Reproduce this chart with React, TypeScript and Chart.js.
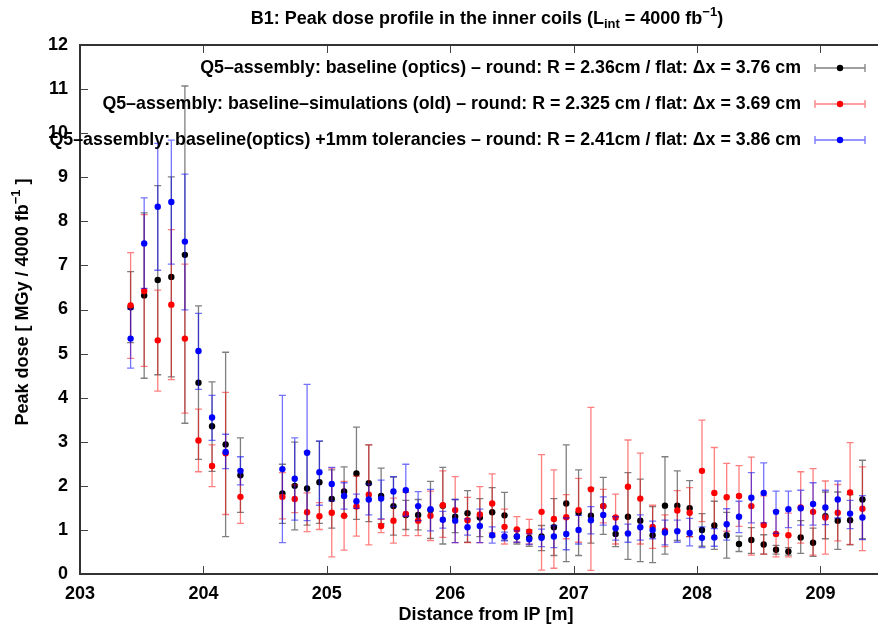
import React, { useEffect, useRef } from 'react';
import { Chart, registerables } from 'chart.js';

Chart.register(...registerables);

const FONT = '"Liberation Sans", Arial, Helvetica, sans-serif';

// Distance from IP [m]
const positions = [
  203.41, 203.52, 203.63, 203.74, 203.85, 203.96, 204.07, 204.18, 204.30,
  204.64, 204.74, 204.84, 204.94, 205.04, 205.14, 205.24, 205.34, 205.44, 205.54,
  205.64, 205.74, 205.84, 205.94, 206.04, 206.14, 206.24, 206.34, 206.44, 206.54,
  206.64, 206.74, 206.84, 206.94, 207.04, 207.14, 207.24, 207.34, 207.44, 207.54,
  207.64, 207.74, 207.84, 207.94, 208.04, 208.14, 208.24, 208.34, 208.44, 208.54,
  208.64, 208.74, 208.84, 208.94, 209.04, 209.14, 209.24, 209.34,
];

// Series 1: baseline (optics)
const baselineDose = [
  6.05, 6.32, 6.67, 6.74, 7.24, 4.34, 3.35, 2.94, 2.24,
  1.83, 2.00, 1.94, 2.08, 1.70, 1.87, 2.28, 2.06, 1.77, 1.54, 1.34, 1.34, 1.45, 1.55, 1.30, 1.38,
  1.28, 1.40, 1.33, 0.85, 0.82, 0.85, 1.06, 1.60, 1.39, 1.32, 1.54, 0.91, 1.30, 1.21, 0.88, 1.55,
  1.55, 1.49, 1.00, 1.10, 0.88, 0.68, 0.77, 0.67, 0.55, 0.51, 0.83, 0.71, 1.31, 1.21, 1.22, 1.69,
];
const baselineLow = [
  5.25, 4.44, 4.52, 4.47, 3.42, 2.60, 2.33, 0.85, 1.40,
  1.15, 1.00, 1.11, 1.15, 1.04, 1.31, 1.24, 1.19, 1.14, 0.88, 1.01, 1.00, 0.81, 0.68, 0.94, 0.72,
  0.85, 0.84, 0.77, 0.68, 0.63, 0.53, 0.42, 0.28, 0.42, 0.70, 0.90, 0.62, 0.33, 0.28, 0.26, 0.45,
  0.76, 0.85, 0.63, 0.56, 0.36, 0.51, 0.47, 0.45, 0.45, 0.43, 0.47, 0.40, 0.80, 0.56, 0.66, 0.80,
];
const baselineHigh = [
  6.86, 8.19, 8.81, 9.01, 11.07, 6.08, 4.36, 5.03, 3.09,
  2.49, 2.99, 2.77, 3.01, 2.36, 2.43, 3.33, 2.93, 2.40, 2.20, 1.67, 1.69, 2.10, 2.42, 1.69, 1.89,
  1.71, 1.96, 1.85, 1.02, 1.00, 1.10, 1.71, 2.93, 2.36, 1.95, 2.19, 1.30, 2.30, 2.15, 1.53, 2.66,
  2.34, 2.12, 1.37, 1.65, 1.40, 0.86, 1.05, 0.89, 0.65, 0.60, 1.21, 1.04, 1.86, 1.86, 1.80, 2.58,
];

// Series 2: baseline-simulations (old)
const oldSimDose = [
  6.09, 6.42, 5.30, 6.11, 5.34, 3.03, 2.45, 2.74, 1.75,
  1.75, 1.70, 1.40, 1.31, 1.39, 1.32, 1.53, 1.80, 1.09, 1.21, 1.36, 1.21, 1.32, 1.56, 1.45, 1.22,
  1.35, 1.60, 1.07, 1.01, 0.96, 1.41, 1.25, 1.29, 1.45, 1.92, 1.54, 1.28, 1.98, 1.71, 1.07, 0.98,
  1.44, 1.39, 2.34, 1.84, 1.74, 1.77, 1.54, 1.11, 0.91, 0.88, 1.51, 1.41, 1.28, 1.39, 1.85, 1.48,
];
const oldSimLow = [
  4.89, 4.71, 4.15, 4.41, 3.65, 2.32, 1.98, 1.35, 1.15,
  1.25, 1.39, 0.96, 1.01, 0.39, 0.54, 0.86, 0.66, 0.94, 0.70, 0.87, 0.87, 0.76, 0.83, 0.71, 0.71,
  0.71, 0.93, 0.68, 0.72, 0.68, 0.09, 0.13, 0.80, 0.72, 0.08, 1.16, 0.68, 0.93, 0.68, 0.58, 0.62,
  0.99, 0.85, 1.19, 0.81, 0.97, 1.08, 0.43, 0.45, 0.39, 0.39, 0.70, 0.43, 0.45, 0.75, 0.67, 0.53,
];
const oldSimHigh = [
  7.29, 8.15, 6.44, 7.81, 7.03, 3.74, 2.93, 4.12, 2.36,
  2.30, 2.02, 1.84, 1.62, 2.40, 2.10, 2.22, 2.93, 1.24, 1.72, 1.85, 1.55, 1.88, 2.34, 2.21, 1.74,
  1.98, 2.27, 1.47, 1.30, 1.24, 2.71, 2.36, 1.80, 2.17, 3.78, 1.92, 1.81, 3.04, 2.74, 1.56, 1.34,
  1.89, 1.96, 3.49, 2.87, 2.51, 2.46, 2.65, 1.77, 1.43, 1.38, 2.32, 2.39, 2.11, 2.03, 2.98, 2.43,
];

// Series 3: baseline(optics) +1mm tolerancies
const tolDose = [
  5.34, 7.50, 8.33, 8.44, 7.54, 5.06, 3.55, 2.77, 2.34,
  2.38, 2.16, 2.75, 2.31, 2.04, 1.77, 1.65, 1.69, 1.71, 1.87, 1.90, 1.54, 1.47, 1.23, 1.21, 1.06,
  1.09, 0.88, 0.85, 0.85, 0.79, 0.82, 0.85, 0.91, 1.00, 1.22, 1.34, 1.04, 0.92, 1.06, 1.00, 0.94,
  0.97, 0.93, 0.82, 0.83, 1.13, 1.30, 1.73, 1.84, 1.41, 1.47, 1.49, 1.59, 1.51, 1.69, 1.37, 1.28,
];
const tolLow = [
  4.67, 6.48, 6.89, 7.03, 5.99, 4.19, 3.03, 2.39, 2.02,
  0.71, 1.22, 1.21, 1.56, 1.66, 1.47, 1.49, 1.34, 1.25, 1.53, 1.31, 1.21, 0.98, 1.04, 0.71, 0.88,
  0.71, 0.70, 0.75, 0.72, 0.67, 0.62, 0.60, 0.55, 0.68, 0.91, 1.11, 0.77, 0.72, 0.77, 0.80, 0.66,
  0.72, 0.64, 0.60, 0.63, 0.77, 0.94, 1.16, 1.16, 0.92, 1.05, 1.11, 1.11, 1.12, 1.27, 1.03, 0.78,
];
const tolHigh = [
  6.01, 8.53, 9.77, 9.84, 9.07, 5.91, 4.05, 3.17, 2.66,
  4.05, 3.09, 4.30, 3.02, 2.42, 2.07, 1.81, 2.04, 2.13, 2.21, 2.49, 1.87, 1.92, 1.42, 1.69, 1.25,
  1.47, 1.07, 0.95, 0.98, 0.91, 1.02, 1.10, 1.27, 1.33, 1.53, 1.75, 1.30, 1.13, 1.34, 1.20, 1.22,
  1.22, 1.26, 1.07, 1.03, 1.48, 1.65, 2.30, 2.52, 1.88, 1.88, 1.90, 2.07, 1.90, 2.11, 1.67, 1.78,
];

const xTicks = [203, 204, 205, 206, 207, 208, 209];
const yTicks = [0, 1, 2, 3, 4, 5, 6, 7, 8, 9, 10, 11, 12];

const legendLabels = [
  'Q5–assembly: baseline (optics) – round: R = 2.36cm / flat: Δx = 3.76 cm',
  'Q5–assembly: baseline–simulations (old) – round: R = 2.325 cm / flat: Δx = 3.69 cm',
  'Q5–assembly: baseline(optics) +1mm tolerancies – round: R = 2.41cm / flat: Δx = 3.86 cm',
];
const pointColors = ['#000000', '#ff0000', '#0000ff'];
const barColors = ['rgba(0,0,0,0.5)', 'rgba(255,0,0,0.5)', 'rgba(0,0,255,0.55)'];

type Seg = { t: string; k?: 'sub' | 'sup' };

const titleSegs: Seg[] = [
  { t: 'B1: Peak dose profile in the inner coils (L' },
  { t: 'int', k: 'sub' },
  { t: ' = 4000 fb' },
  { t: '−1', k: 'sup' },
  { t: ')' },
];
const yTitleSegs: Seg[] = [
  { t: 'Peak dose [ MGy / 4000 fb' },
  { t: '−1', k: 'sup' },
  { t: ' ]' },
];
const xTitleSegs: Seg[] = [{ t: 'Distance from IP [m]' }];

function segFont(size: number, k?: string) {
  const s = k ? Math.round(size * 0.72) : size;
  return `bold ${s}px ${FONT}`;
}

function drawRich(ctx: CanvasRenderingContext2D, segs: Seg[], cx: number, cy: number, size: number) {
  let total = 0;
  const widths = segs.map((s) => {
    ctx.font = segFont(size, s.k);
    const w = ctx.measureText(s.t).width;
    total += w;
    return w;
  });
  let x = cx - total / 2;
  ctx.textBaseline = 'middle';
  ctx.textAlign = 'left';
  segs.forEach((s, i) => {
    ctx.font = segFont(size, s.k);
    const dy = s.k === 'sub' ? size * 0.32 : s.k === 'sup' ? -size * 0.38 : 0;
    ctx.fillText(s.t, x, cy + dy);
    x += widths[i];
  });
}

const errorBarPlugin = {
  id: 'errorBars',
  beforeDatasetDraw(chart: any, args: any) {
    const ds = chart.data.datasets[args.index];
    const { ctx, chartArea: a } = chart;
    const xs = chart.scales.x;
    const ys = chart.scales.y;
    ctx.save();
    ctx.beginPath();
    ctx.rect(a.left, a.top, a.right - a.left, a.bottom - a.top);
    ctx.clip();
    ctx.strokeStyle = ds.barColor;
    ctx.lineWidth = 1.3;
    ds.data.forEach((p: any, i: number) => {
      const px = xs.getPixelForValue(p.x);
      const pl = ys.getPixelForValue(ds.errLow[i]);
      const ph = ys.getPixelForValue(ds.errHigh[i]);
      ctx.beginPath();
      ctx.moveTo(px, pl);
      ctx.lineTo(px, ph);
      ctx.moveTo(px - 3.5, pl);
      ctx.lineTo(px + 3.5, pl);
      ctx.moveTo(px - 3.5, ph);
      ctx.lineTo(px + 3.5, ph);
      ctx.stroke();
    });
    ctx.restore();
  },
};

const framePlugin = {
  id: 'frame',
  afterDraw(chart: any) {
    const { ctx, chartArea: a, scales } = chart;
    ctx.save();
    // ticks
    ctx.strokeStyle = '#444';
    ctx.lineWidth = 1;
    scales.x.ticks.forEach((t: any) => {
      const px = Math.round(scales.x.getPixelForValue(t.value)) + 0.5;
      ctx.beginPath();
      ctx.moveTo(px, a.bottom);
      ctx.lineTo(px, a.bottom - 8);
      ctx.moveTo(px, a.top);
      ctx.lineTo(px, a.top + 8);
      ctx.stroke();
    });
    scales.y.ticks.forEach((t: any) => {
      const py = Math.round(scales.y.getPixelForValue(t.value)) + 0.5;
      ctx.beginPath();
      ctx.moveTo(a.left, py);
      ctx.lineTo(a.left + 8, py);
      ctx.stroke();
    });
    // border
    ctx.strokeStyle = '#333';
    ctx.lineWidth = 2;
    ctx.beginPath();
    ctx.moveTo(a.right + 2, a.top);
    ctx.lineTo(a.left, a.top);
    ctx.lineTo(a.left, a.bottom);
    ctx.lineTo(a.right + 2, a.bottom);
    ctx.stroke();

    // titles
    ctx.fillStyle = '#000';
    drawRich(ctx, titleSegs, 487, 19, 18);
    drawRich(ctx, xTitleSegs, 486, 615, 18);
    ctx.save();
    ctx.translate(23, 302);
    ctx.rotate(-Math.PI / 2);
    drawRich(ctx, yTitleSegs, 0, 0, 18);
    ctx.restore();

    // legend
    const rowY = [68, 104, 140];
    legendLabels.forEach((lab, i) => {
      const y = rowY[i];
      ctx.font = `bold 17.8px ${FONT}`;
      ctx.textAlign = 'right';
      ctx.textBaseline = 'middle';
      ctx.fillStyle = '#000';
      ctx.fillText(lab, 801, y);
      ctx.strokeStyle = barColors[i];
      ctx.lineWidth = 1.3;
      ctx.beginPath();
      ctx.moveTo(815, y);
      ctx.lineTo(865, y);
      ctx.moveTo(815, y - 4);
      ctx.lineTo(815, y + 4);
      ctx.moveTo(865, y - 4);
      ctx.lineTo(865, y + 4);
      ctx.stroke();
      ctx.fillStyle = pointColors[i];
      ctx.beginPath();
      ctx.arc(840, y, 3.2, 0, Math.PI * 2);
      ctx.fill();
    });
    ctx.restore();
  },
};

function makeData(vals: number[]) {
  return positions.map((x, i) => ({ x, y: vals[i] }));
}

export default function App() {
  const ref = useRef<HTMLCanvasElement | null>(null);
  useEffect(() => {
    if (!ref.current) return;
    const tickFont = { family: FONT, size: 18, weight: 'bold' as const };
    const mk = (i: number, vals: number[], lo: number[], hi: number[], order: number) =>
      ({
        label: legendLabels[i],
        data: makeData(vals),
        errLow: lo,
        errHigh: hi,
        barColor: barColors[i],
        pointBackgroundColor: pointColors[i],
        pointBorderWidth: 0,
        pointRadius: 3.2,
        order,
      }) as any;
    const chart = new Chart(ref.current, {
      type: 'scatter',
      data: {
        datasets: [
          mk(0, baselineDose, baselineLow, baselineHigh, 3),
          mk(1, oldSimDose, oldSimLow, oldSimHigh, 2),
          mk(2, tolDose, tolLow, tolHigh, 1),
        ],
      },
      options: {
        responsive: false,
        animation: false,
        layout: { padding: { top: 45, left: 0, right: 0, bottom: 0 } },
        plugins: {
          legend: { display: false },
          title: { display: false },
          tooltip: { enabled: false },
        },
        scales: {
          x: {
            type: 'linear',
            min: 203,
            max: 209.45,
            afterFit: (s: any) => {
              s.height = 56;
            },
            afterBuildTicks: (s: any) => {
              s.ticks = xTicks.map((v) => ({ value: v }));
            },
            grid: { display: false, drawTicks: false },
            border: { display: false },
            ticks: {
              padding: 9,
              color: '#000',
              font: tickFont,
              maxRotation: 0,
              callback: (v: any) => String(v),
            },
          },
          y: {
            type: 'linear',
            min: 0,
            max: 12,
            afterFit: (s: any) => {
              s.width = 80;
            },
            afterBuildTicks: (s: any) => {
              s.ticks = yTicks.map((v) => ({ value: v }));
            },
            grid: { display: false, drawTicks: false },
            border: { display: false },
            ticks: {
              padding: 12,
              color: '#000',
              font: tickFont,
              callback: (v: any) => String(v),
            },
          },
        },
      } as any,
      plugins: [errorBarPlugin, framePlugin],
    });
    return () => chart.destroy();
  }, []);

  return (
    <div style={{ position: 'absolute', left: 0, top: 0, width: 880, height: 630, background: '#fff' }}>
      <canvas ref={ref} width={880} height={630} style={{ display: 'block' }} />
    </div>
  );
}
